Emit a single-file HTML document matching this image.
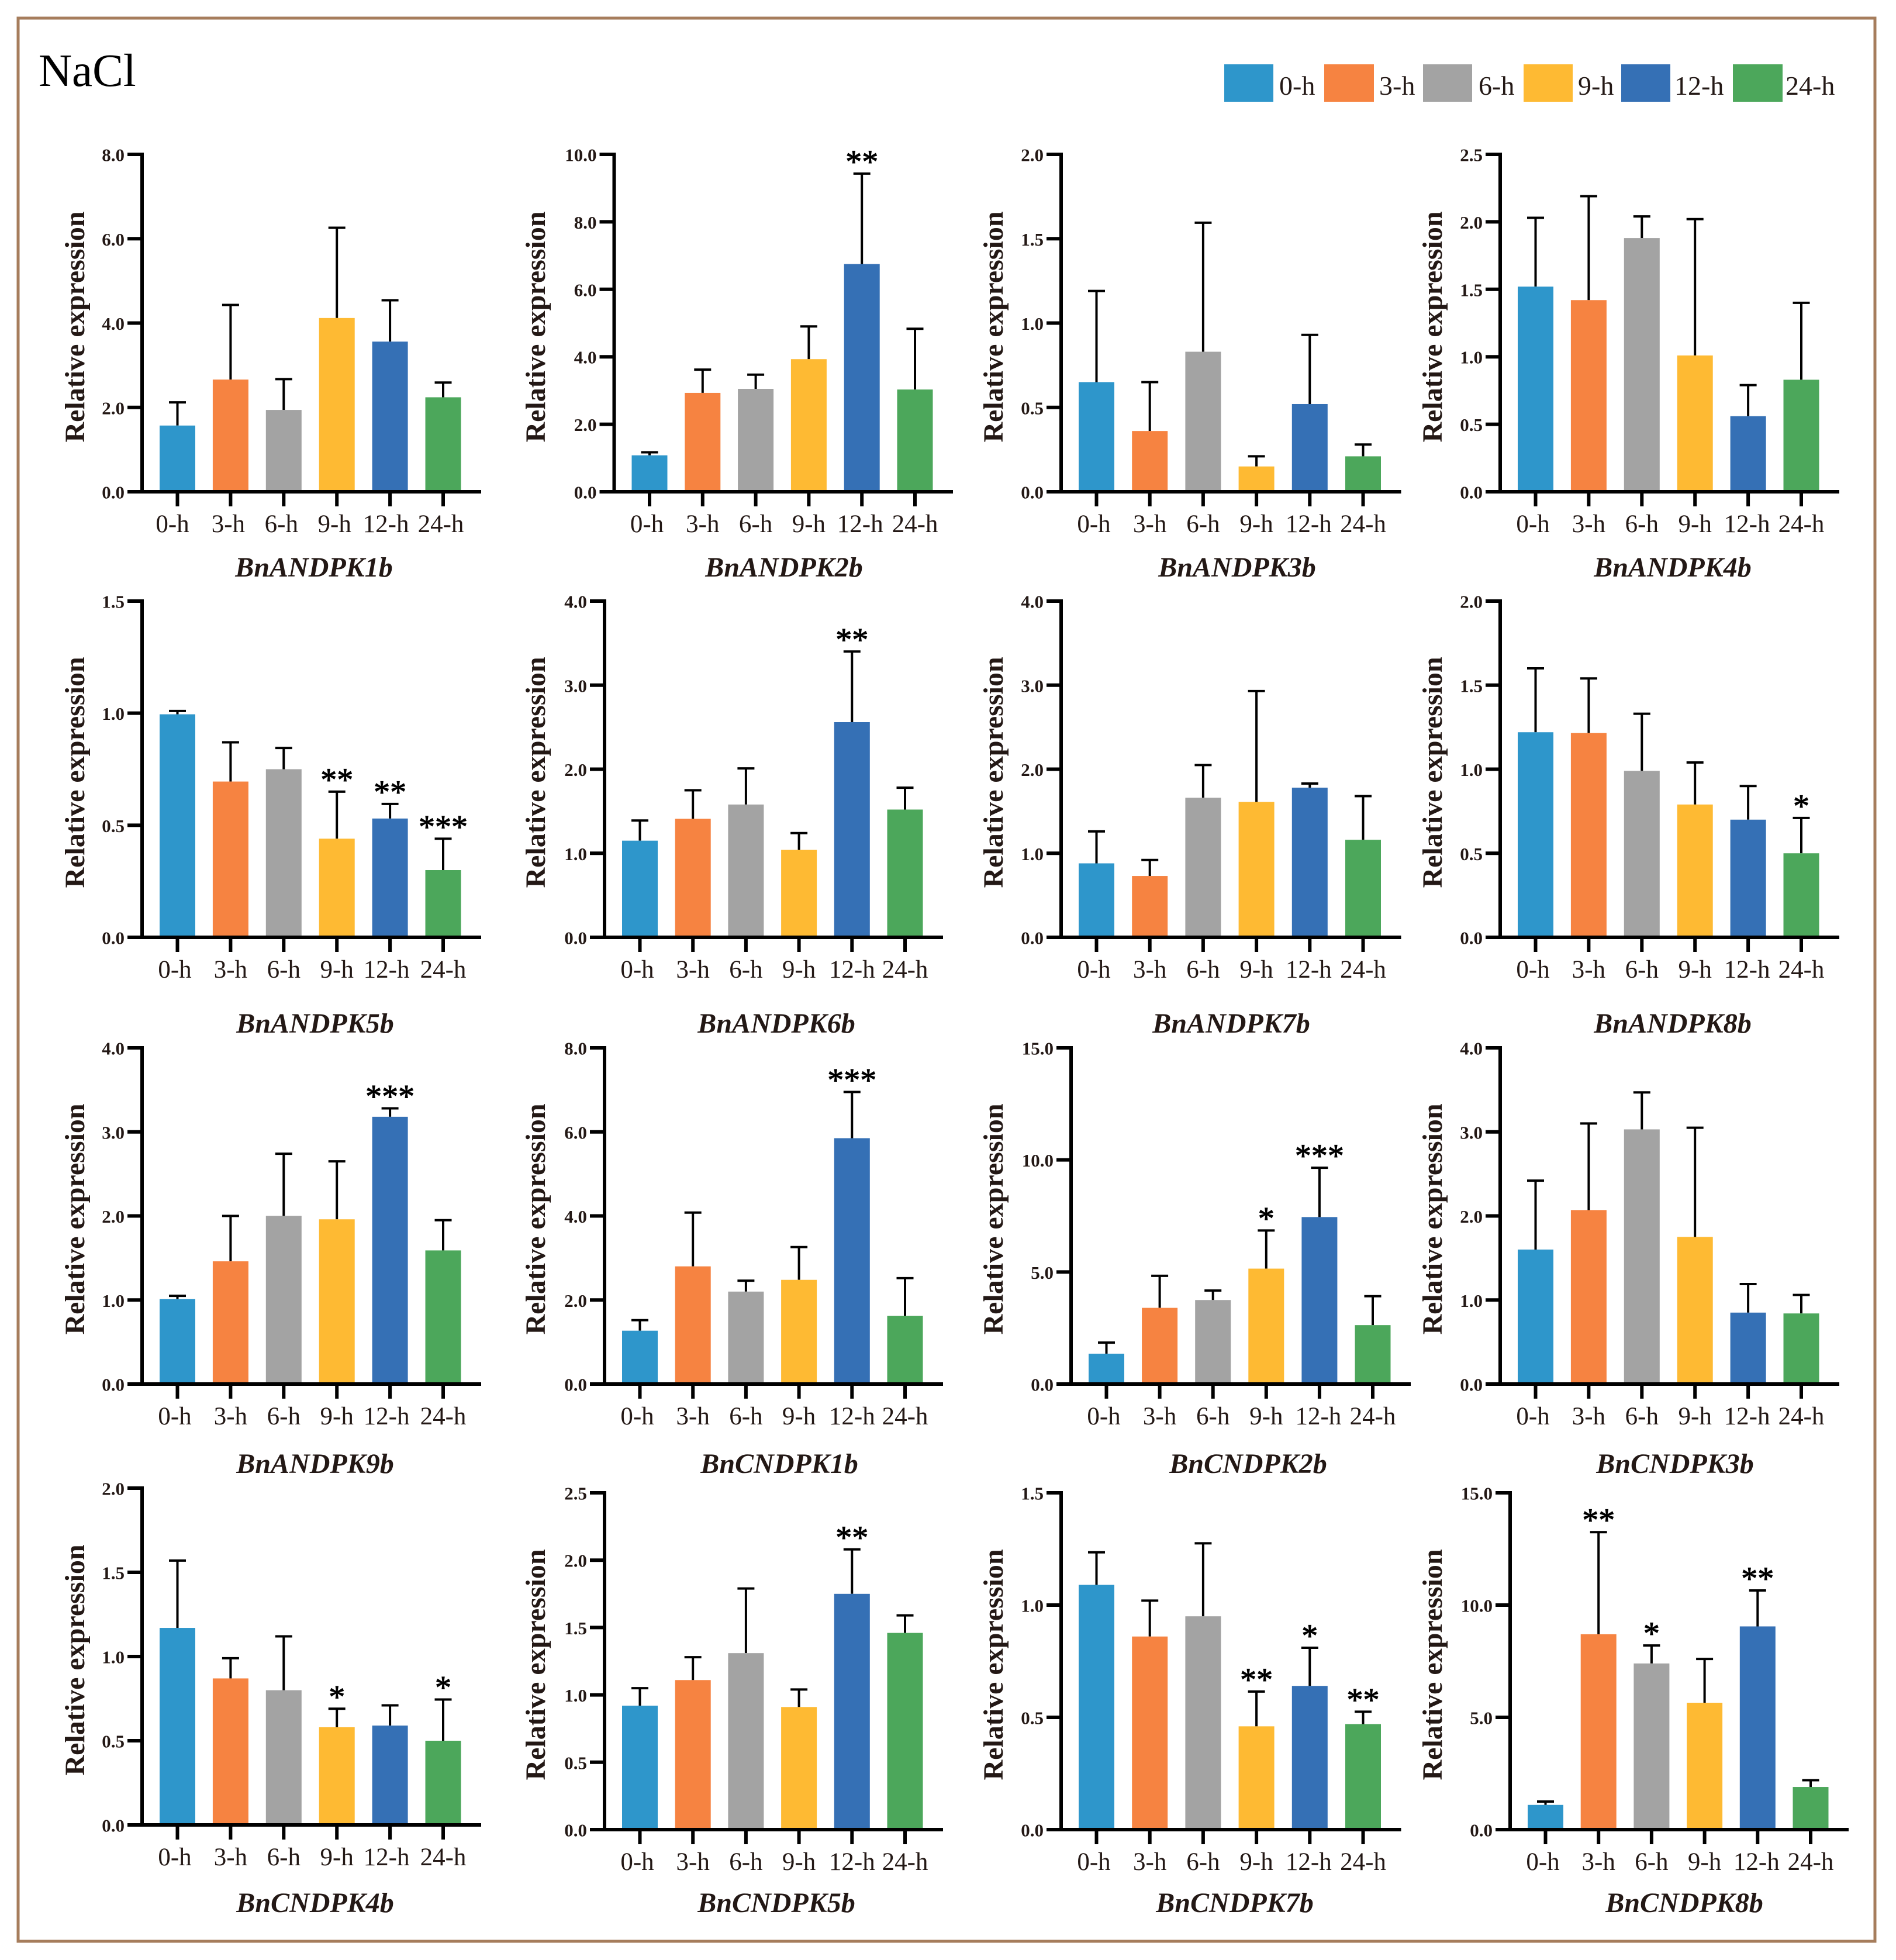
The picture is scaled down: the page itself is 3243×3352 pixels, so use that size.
<!DOCTYPE html>
<html lang="en">
<head>
<meta charset="utf-8">
<title>NaCl relative expression</title>
<style>
html,body{margin:0;padding:0;background:#fff;}
body{width:3243px;height:3352px;overflow:hidden;}
svg{display:block;}
text{font-family:"Liberation Serif",serif;fill:#231815;}
</style>
</head>
<body>
<svg id="figure" xmlns="http://www.w3.org/2000/svg" width="3243" height="3352" viewBox="0 0 3243 3352">
  <rect x="31" y="31" width="3176" height="3289" fill="none" stroke="#a67d5c" stroke-width="5"/>
  <text x="66" y="147" font-size="79" style="fill:#000">NaCl</text>
  <g>
    <rect x="2094" y="110" width="84" height="64" fill="#2e96cb"/>
    <text x="2188" y="162" font-size="46">0-h</text>
    <rect x="2265" y="110" width="85" height="64" fill="#f68341"/>
    <text x="2359" y="162" font-size="46">3-h</text>
    <rect x="2434" y="110" width="84" height="64" fill="#a3a3a3"/>
    <text x="2529" y="162" font-size="46">6-h</text>
    <rect x="2606" y="110" width="84" height="64" fill="#feba33"/>
    <text x="2699" y="162" font-size="46">9-h</text>
    <rect x="2773" y="110" width="84" height="64" fill="#3570b5"/>
    <text x="2864" y="162" font-size="46">12-h</text>
    <rect x="2964" y="110" width="85" height="64" fill="#4ca75b"/>
    <text x="3054" y="162" font-size="46">24-h</text>
  </g>
</svg>
<script>
const categories = ["0-h","3-h","6-h","9-h","12-h","24-h"];
const barColors = ["#2e96cb","#f68341","#a3a3a3","#feba33","#3570b5","#4ca75b"];

const genes = ["BnANDPK1b","BnANDPK2b","BnANDPK3b","BnANDPK4b","BnANDPK5b","BnANDPK6b","BnANDPK7b","BnANDPK8b","BnANDPK9b","BnCNDPK1b","BnCNDPK2b","BnCNDPK3b","BnCNDPK4b","BnCNDPK5b","BnCNDPK7b","BnCNDPK8b"];

const meansA1 = [1.57,2.66,1.94,4.12,3.56,2.24];
const errorsA1 = [0.55,1.77,0.73,2.14,0.98,0.35];
const starsA1 = ["","","","","",""];
const ticksA1 = ["0.0","2.0","4.0","6.0","8.0"];

const meansA2 = [1.08,2.93,3.05,3.93,6.75,3.03];
const errorsA2 = [0.09,0.69,0.42,0.97,2.68,1.80];
const starsA2 = ["","","","","**",""];
const ticksA2 = ["0.0","2.0","4.0","6.0","8.0","10.0"];

const meansA3 = [0.65,0.36,0.83,0.15,0.52,0.21];
const errorsA3 = [0.54,0.29,0.765,0.06,0.41,0.07];
const starsA3 = ["","","","","",""];
const ticksA3 = ["0.0","0.5","1.0","1.5","2.0"];

const meansA4 = [1.52,1.42,1.88,1.01,0.56,0.83];
const errorsA4 = [0.51,0.77,0.16,1.01,0.23,0.57];
const starsA4 = ["","","","","",""];
const ticksA4 = ["0.0","0.5","1.0","1.5","2.0","2.5"];

const meansA5 = [0.995,0.695,0.75,0.44,0.53,0.30];
const errorsA5 = [0.015,0.175,0.095,0.21,0.065,0.14];
const starsA5 = ["","","","**","**","***"];
const ticksA5 = ["0.0","0.5","1.0","1.5"];

const meansA6 = [1.15,1.41,1.58,1.04,2.56,1.52];
const errorsA6 = [0.24,0.34,0.43,0.20,0.84,0.26];
const starsA6 = ["","","","","**",""];
const ticksA6 = ["0.0","1.0","2.0","3.0","4.0"];

const meansA7 = [0.88,0.73,1.66,1.61,1.78,1.16];
const errorsA7 = [0.38,0.19,0.39,1.32,0.05,0.52];
const starsA7 = ["","","","","",""];
const ticksA7 = ["0.0","1.0","2.0","3.0","4.0"];

const meansA8 = [1.22,1.215,0.99,0.79,0.70,0.50];
const errorsA8 = [0.38,0.325,0.34,0.25,0.20,0.21];
const starsA8 = ["","","","","","*"];
const ticksA8 = ["0.0","0.5","1.0","1.5","2.0"];

const meansA9 = [1.01,1.46,2.0,1.96,3.18,1.59];
const errorsA9 = [0.04,0.54,0.74,0.69,0.10,0.36];
const starsA9 = ["","","","","***",""];
const ticksA9 = ["0.0","1.0","2.0","3.0","4.0"];

const meansC1 = [1.27,2.8,2.2,2.48,5.85,1.62];
const errorsC1 = [0.25,1.28,0.26,0.78,1.10,0.90];
const starsC1 = ["","","","","***",""];
const ticksC1 = ["0.0","2.0","4.0","6.0","8.0"];

const meansC2 = [1.35,3.4,3.75,5.15,7.45,2.63];
const errorsC2 = [0.5,1.43,0.42,1.7,2.2,1.29];
const starsC2 = ["","","","*","***",""];
const ticksC2 = ["0.0","5.0","10.0","15.0"];

const meansC3 = [1.6,2.07,3.03,1.75,0.85,0.84];
const errorsC3 = [0.82,1.03,0.44,1.30,0.34,0.22];
const starsC3 = ["","","","","",""];
const ticksC3 = ["0.0","1.0","2.0","3.0","4.0"];

const meansC4 = [1.17,0.87,0.80,0.58,0.59,0.50];
const errorsC4 = [0.40,0.12,0.32,0.11,0.12,0.245];
const starsC4 = ["","","","*","","*"];
const ticksC4 = ["0.0","0.5","1.0","1.5","2.0"];

const meansC5 = [0.92,1.11,1.31,0.91,1.75,1.46];
const errorsC5 = [0.13,0.17,0.48,0.13,0.33,0.13];
const starsC5 = ["","","","","**",""];
const ticksC5 = ["0.0","0.5","1.0","1.5","2.0","2.5"];

const meansC7 = [1.09,0.86,0.95,0.46,0.64,0.47];
const errorsC7 = [0.145,0.16,0.325,0.155,0.17,0.055];
const starsC7 = ["","","","**","*","**"];
const ticksC7 = ["0.0","0.5","1.0","1.5"];

const meansC8 = [1.1,8.7,7.4,5.65,9.05,1.9];
const errorsC8 = [0.15,4.55,0.8,1.95,1.6,0.3];
const starsC8 = ["","**","*","","**",""];
const ticksC8 = ["0.0","5.0","10.0","15.0"];

const allMeans = [meansA1,meansA2,meansA3,meansA4,meansA5,meansA6,meansA7,meansA8,meansA9,meansC1,meansC2,meansC3,meansC4,meansC5,meansC7,meansC8];
const allErrors = [errorsA1,errorsA2,errorsA3,errorsA4,errorsA5,errorsA6,errorsA7,errorsA8,errorsA9,errorsC1,errorsC2,errorsC3,errorsC4,errorsC5,errorsC7,errorsC8];
const allStars = [starsA1,starsA2,starsA3,starsA4,starsA5,starsA6,starsA7,starsA8,starsA9,starsC1,starsC2,starsC3,starsC4,starsC5,starsC7,starsC8];
const allTicks = [ticksA1,ticksA2,ticksA3,ticksA4,ticksA5,ticksA6,ticksA7,ticksA8,ticksA9,ticksC1,ticksC2,ticksC3,ticksC4,ticksC5,ticksC7,ticksC8];

/* panel geometry: axisX, top, base, step, titleX, geneX, geneY, labelShift, label12hShift */
const frames = [
  [243,264,841,90.9,144,537,986,-4,-3],[1050.5,264,841,90.8,932,1341,986,0,-3],[1815,264,841,91.2,1715,2116,986,0,-2],[2566,264,841,90.9,2466,2861,986,0,-2],
  [243,1028,1603,90.9,144,539,1766,0,-6],[1034,1028,1603,90.7,932,1328,1766,0,0],[1815,1028,1603,91.2,1715,2106,1766,0,-2],[2566,1028,1603,90.9,2466,2861,1766,0,-2],
  [243,1792,2367,90.9,144,539,2519,0,-6],[1034,1792,2367,90.7,932,1333,2519,0,0],[1832,1792,2367,91.1,1715,2135,2519,0,-2],[2566,1792,2367,90.9,2466,2865,2519,0,-2],
  [243,2545,3121,90.9,144,539,3270,0,-6],[1034,2553,3129,90.7,932,1328,3270,0,0],[1815,2553,3129,91.2,1715,2112,3270,0,-2],[2583,2553,3129,90.7,2466,2881,3270,0,-2]
];

const svg = document.getElementById('figure');
const NS = 'http://www.w3.org/2000/svg';

function make(parent, tag, attrs, content) {
  const node = document.createElementNS(NS, tag);
  for (const k in attrs) node.setAttribute(k, attrs[k]);
  if (content !== undefined) node.textContent = content;
  parent.appendChild(node);
  return node;
}

function yAxisScale(frame, ticks) {
  const max = parseFloat(ticks[ticks.length - 1]);
  return v => frame[2] - (v / max) * (frame[2] - frame[1]);
}

function xAxisScale(frame) {
  return i => frame[0] + 60.5 + i * frame[3];
}

genes.forEach((gene, p) => {
  const frame = frames[p];
  const means = allMeans[p];
  const errors = allErrors[p];
  const stars = allStars[p];
  const ticks = allTicks[p];
  const y = yAxisScale(frame, ticks);
  const x = xAxisScale(frame);
  const axisX = frame[0], top = frame[1], base = frame[2];

  const g = make(svg, 'g', {});
  
  

  categories.forEach((cat, i) => {
    const errLine = make(g, 'line', {x1:x(i), x2:x(i), y1:y(means[i]), y2:y(means[i] + errors[i]), stroke:'#000', 'stroke-width':4});
    
    

    const errCap = make(g, 'line', {x1:x(i) - 14.5, x2:x(i) + 14.5, y1:y(means[i] + errors[i]), y2:y(means[i] + errors[i]), stroke:'#000', 'stroke-width':4});
    
    

    const bar = make(g, 'rect', {x:x(i) - 30.5, y:y(means[i]), width:61, height:base - y(means[i]), fill:barColors[i]});
    
    

    const tick = make(g, 'line', {x1:x(i), x2:x(i), y1:base, y2:base + 25, stroke:'#000', 'stroke-width':6});
    
    

    const shift = frame[7] + (i === 0 ? -4.5 : 0) + (i === 4 ? frame[8] : 0);
    const label = make(g, 'text', {x:x(i) + shift, y:base + 69, 'font-size':43, 'text-anchor':'middle'}, cat);
    
    

    if (stars[i]) {
      const star = make(g, 'text', {x:x(i), y:y(means[i] + errors[i]) - 2, 'font-size':56, 'text-anchor':'middle', style:'fill:#000;stroke:#000;stroke-width:1'}, stars[i]);
      
      
    }
  });

  const yAxis = make(g, 'line', {x1:axisX, x2:axisX, y1:top - 3, y2:base + 3, stroke:'#000', 'stroke-width':6});
  
  

  const xAxis = make(g, 'line', {x1:axisX, x2:x(5) + 65, y1:base, y2:base, stroke:'#000', 'stroke-width':6});
  
  

  ticks.forEach(t => {
    const v = parseFloat(t);
    const tk = make(g, 'line', {x1:axisX - 25, x2:axisX, y1:y(v), y2:y(v), stroke:'#000', 'stroke-width':6});
    
    

    const lb = make(g, 'text', {x:axisX - 30, y:y(v) + 11.5, 'font-size':31, 'font-weight':'bold', 'text-anchor':'end'}, t);
    
    
  });

  const yTitle = make(g, 'text', {x:0, y:0, 'font-size':48, 'font-weight':'bold', 'text-anchor':'middle', transform:'translate(' + frame[4] + ',' + (base - 282) + ') rotate(-90)'}, 'Relative expression');
  
  

  const geneTitle = make(g, 'text', {x:frame[5], y:frame[6], 'font-size':48, 'font-weight':'bold', 'font-style':'italic', 'text-anchor':'middle'}, gene);
  
  
});
</script>
</body>
</html>
